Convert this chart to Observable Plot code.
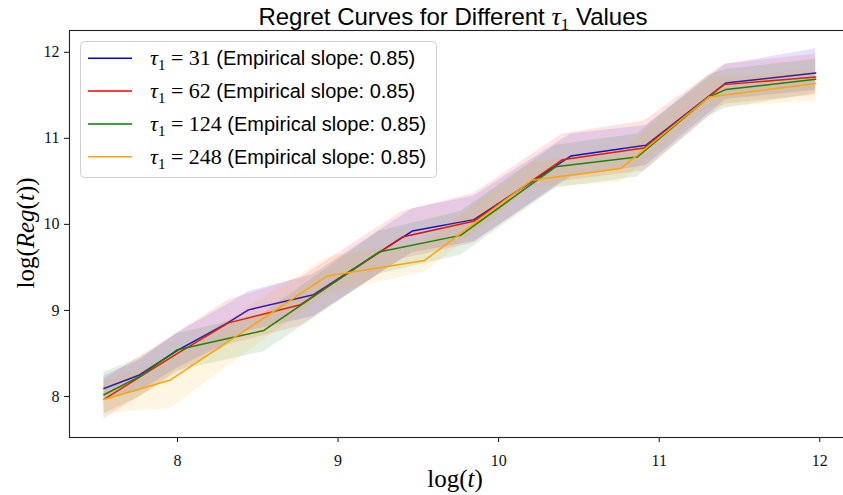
<!DOCTYPE html>
<html>
<head>
<meta charset="utf-8">
<script src="https://cdn.jsdelivr.net/npm/d3@7"></script>
<script src="https://cdn.jsdelivr.net/npm/@observablehq/plot@0.6"></script>
<style>
  html, body { margin: 0; padding: 0; background: #fff; }
  #chart svg { display: block; }
</style>
</head>
<body>
<div id="chart"></div>
<script>
// ---- data ----
const taus = [31, 62, 124, 248];
const slopes = ["0.85", "0.85", "0.85", "0.85"];
const colors = ["#0000ff", "#ff0000", "#008000", "#ffa500"];
const xTicks = [8, 9, 10, 11, 12];
const yTicks = [8, 9, 10, 11, 12];

// tau1 = 31
const logT31   = [7.542, 7.763, 8.0, 8.312, 8.442, 8.847, 9.462, 9.846, 10.449, 10.916, 11.414, 11.975];
const logReg31 = [8.093, 8.25, 8.535, 8.855, 9.006, 9.183, 9.922, 10.055, 10.794, 10.919, 11.643, 11.759];
const hi31     = [8.24, 8.42, 8.74, 9.07, 9.22, 9.42, 10.18, 10.33, 11.05, 11.15, 11.86, 12.04];
const lo31     = [7.96, 8.06, 8.33, 8.62, 8.76, 8.93, 9.67, 9.80, 10.55, 10.68, 11.45, 11.56];

// tau1 = 62
const logT62   = [7.542, 8.0, 8.318, 8.766, 9.4, 9.844, 10.397, 10.905, 11.404, 11.975];
const logReg62 = [7.965, 8.5, 8.855, 9.066, 9.852, 10.035, 10.752, 10.887, 11.624, 11.713];
const hi62     = [8.20, 8.74, 9.12, 9.38, 10.15, 10.36, 11.05, 11.20, 11.86, 11.98];
const lo62     = [7.74, 8.27, 8.60, 8.82, 9.60, 9.78, 10.50, 10.62, 11.40, 11.50];

// tau1 = 124
const logT124   = [7.542, 7.769, 8.0, 8.538, 9.254, 9.763, 10.355, 10.864, 11.31, 11.414, 11.975];
const logReg124 = [8.02, 8.236, 8.543, 8.767, 9.678, 9.872, 10.669, 10.783, 11.48, 11.566, 11.686];
const hi124     = [8.28, 8.45, 8.73, 8.97, 9.92, 10.15, 10.92, 11.05, 11.74, 11.80, 11.92];
const lo124     = [7.80, 8.00, 8.30, 8.52, 9.42, 9.64, 10.42, 10.55, 11.26, 11.35, 11.52];

// tau1 = 248
const logT248   = [7.542, 7.956, 8.933, 9.539, 10.206, 10.76, 11.31, 11.975];
const logReg248 = [7.965, 8.192, 9.401, 9.581, 10.512, 10.648, 11.48, 11.636];
const hi248     = [8.17, 8.45, 9.62, 9.80, 10.72, 10.85, 11.70, 11.80];
const lo248     = [7.80, 7.86, 9.20, 9.44, 10.43, 10.49, 11.36, 11.43];

const seriesX  = [logT31, logT62, logT124, logT248];
const seriesY  = [logReg31, logReg62, logReg124, logReg248];
const seriesHi = [hi31, hi62, hi124, hi248];
const seriesLo = [lo31, lo62, lo124, lo248];

const rowsFor = i => seriesX[i].map((x, j) => ({
  tau: taus[i], x, y: seriesY[i][j], lo: seriesLo[i][j], hi: seriesHi[i][j], color: colors[i]
}));

const marks = [];
taus.forEach((t, i) => {
  const rows = rowsFor(i);
  marks.push(Plot.line(rows, {x: "x", y: "y", stroke: colors[i], strokeWidth: 1.5}));
  marks.push(Plot.areaY(rows, {x: "x", y1: "lo", y2: "hi", fill: colors[i], fillOpacity: 0.11}));
});
marks.push(Plot.frame({stroke: "#222", strokeWidth: 1.1}));

const chart = Plot.plot({
  width: 843,
  height: 495,
  marginTop: 30,
  marginBottom: 58,
  marginLeft: 69,
  marginRight: -12,
  x: {domain: [7.3275, 12.2225], ticks: xTicks, tickSize: 5, tickPadding: 12, label: null, tickFormat: d => String(d)},
  y: {domain: [7.523, 12.253], ticks: yTicks, tickSize: 5, tickPadding: 5, label: null, tickFormat: d => String(d)},
  style: {fontFamily: "'Liberation Serif', serif", fontSize: "16px", color: "#111", background: "#fff", overflow: "hidden"},
  marks
});
document.getElementById("chart").appendChild(chart);

const svg = d3.select(chart);
const sans = "'Liberation Sans', sans-serif";
const serif = "'Liberation Serif', serif";

// title
const title = svg.append("text").attr("x", 453).attr("y", 25).attr("text-anchor", "middle")
  .attr("font-family", sans).attr("font-size", 24).attr("fill", "#000");
title.append("tspan").text("Regret Curves for Different ");
title.append("tspan").attr("font-family", serif).attr("font-style", "italic").attr("font-size", 26).text("τ");
title.append("tspan").attr("font-family", serif).attr("font-size", 17).attr("dy", 5).text("1");
title.append("tspan").attr("dy", -5).text(" Values");

// x label
const xl = svg.append("text").attr("x", 455).attr("y", 487).attr("text-anchor", "middle")
  .attr("font-family", serif).attr("font-size", 25).attr("fill", "#000");
xl.append("tspan").text("log(");
xl.append("tspan").attr("font-style", "italic").text("t");
xl.append("tspan").text(")");

// y label
const yl = svg.append("text").attr("transform", "translate(34,233) rotate(-90)").attr("text-anchor", "middle")
  .attr("font-family", serif).attr("font-size", 25).attr("fill", "#000");
yl.append("tspan").text("log(");
yl.append("tspan").attr("font-style", "italic").text("Reg");
yl.append("tspan").text("(");
yl.append("tspan").attr("font-style", "italic").text("t");
yl.append("tspan").text("))");

// legend
const lg = svg.append("g");
lg.append("rect").attr("x", 80.5).attr("y", 41.5).attr("width", 356).attr("height", 136).attr("rx", 4)
  .attr("fill", "#fff").attr("fill-opacity", 0.8).attr("stroke", "#d0d0d0");
taus.forEach((t, i) => {
  const cy = 58.3 + i * 32.8;
  lg.append("line").attr("x1", 88).attr("x2", 132).attr("y1", cy).attr("y2", cy)
    .attr("stroke", colors[i]).attr("stroke-width", 1.5);
  const tx = lg.append("text").attr("x", 150).attr("y", cy + 7).attr("fill", "#000")
    .attr("text-anchor", "start").attr("font-family", sans).attr("font-size", 20);
  tx.append("tspan").attr("font-family", serif).attr("font-style", "italic").attr("font-size", 22).text("τ");
  tx.append("tspan").attr("font-family", serif).attr("font-size", 15).attr("dy", 5).text("1");
  tx.append("tspan").attr("font-family", serif).attr("font-size", 22).attr("dy", -5).text(" = " + t + " ");
  tx.append("tspan").text("(Empirical slope: " + slopes[i] + ")");
});
</script>
</body>
</html>
